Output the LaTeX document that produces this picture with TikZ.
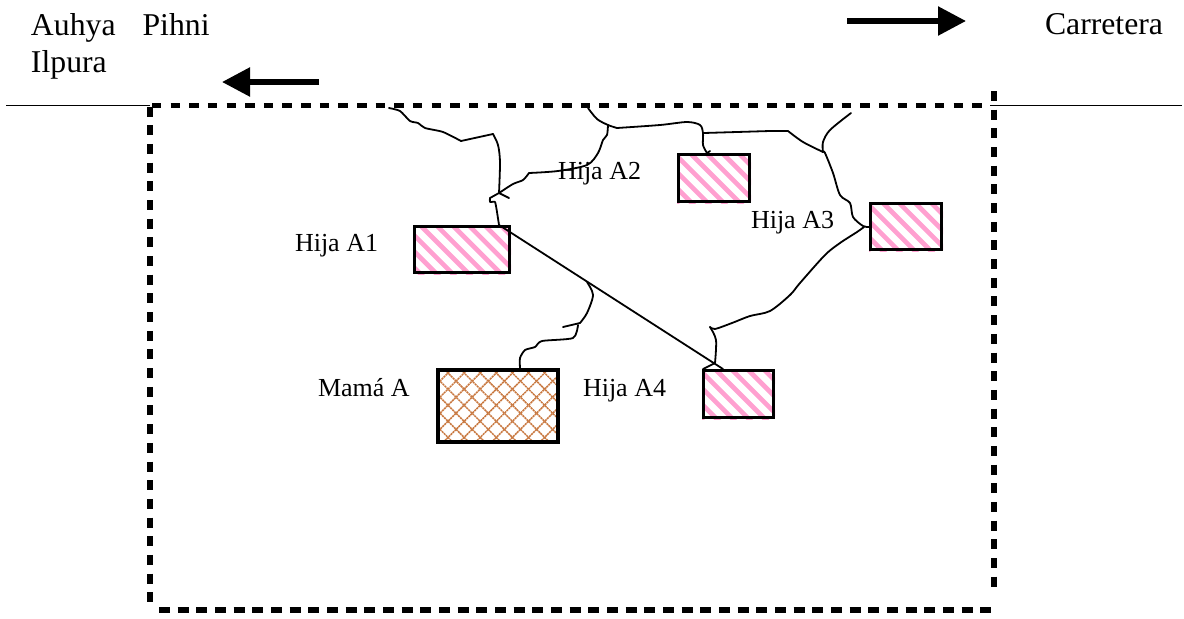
\documentclass[tikz,border=0pt]{standalone}
\usepackage{fontspec}
\setmainfont{Liberation Serif}
\usetikzlibrary{arrows.meta}
\definecolor{stripepink}{HTML}{FFA0D0}
\definecolor{hatchbrown}{HTML}{C87840}
\newcommand{\stripefill}[5]{%
  \begin{scope}
    \clip (#1,#2) rectangle (#3,#4);
    \foreach \k in {-6,...,6}{
      \pgfmathsetmacro{\cc}{#5+16.1*\k}
      \draw[stripeline] ({\cc+#2-10},#2-10) -- ({\cc+#4+10},#4+10);
    }
  \end{scope}}
\tikzset{
  stripeline/.style={stripepink,line width=3.5pt},
  hatchline/.style={hatchbrown,line width=1.15pt,dash pattern=on 1.6pt off 0.5pt},
  hijabox/.style={draw=black,line width=2pt,inner sep=0pt,outer sep=0pt},
  mamabox/.style={draw=black,line width=3pt,inner sep=0pt,outer sep=0pt},
  boundary/.style={black,line width=4.1pt},
  road/.style={black,line width=1.05pt},
  trail/.style={black,line width=1.35pt,line join=round,line cap=round},
  bigarrow/.style={black,line width=4.1pt,-{Triangle[length=21pt,width=21pt]}},
  headtext/.style={font=\fontsize{23.8}{27.75}\selectfont,inner sep=0pt,outer sep=0pt},
  labeltext/.style={font=\fontsize{19.5}{23}\selectfont,inner sep=0pt,outer sep=0pt,anchor=base west}
}
\begin{document}
\begin{tikzpicture}[x=0.75pt,y=-0.75pt]
\useasboundingbox (0,0) rectangle (1184,618);
% stripes
\stripefill{413.5}{225}{511}{274}{195}
\stripefill{677}{153}{751}{203}{537}
\stripefill{869}{202}{943}{251}{680}
\stripefill{702}{369}{775}{419}{346}
% cross-hatch
\begin{scope}
  \clip (438,370) rectangle (558,442);
  \foreach \k in {-7,...,9}{
    \draw[hatchline] ({75+16.1*\k+360},360) -- ({75+16.1*\k+450},450);
  }
  \foreach \k in {-3,...,13}{
    \draw[hatchline] ({821+16.1*\k-360},360) -- ({821+16.1*\k-450},450);
  }
\end{scope}
% houses
\node[hijabox,minimum width=71.25pt,minimum height=34.9pt] (a1) at (462.25,249.5) {};
\node[hijabox,minimum width=53.6pt,minimum height=35.6pt] (a2) at (714,178) {};
\node[hijabox,minimum width=53.6pt,minimum height=34.9pt] (a3) at (906,226.5) {};
\node[hijabox,minimum width=52.9pt,minimum height=35.6pt] (a4) at (738.5,394) {};
\node[mamabox,minimum width=90pt,minimum height=54pt] (mama) at (498,406) {};
% labels
\node[headtext,anchor=north west,align=left] (auhya) at (31,13) {Auhya\hspace{20.25pt}Pihni\\Ilpura};
\node[headtext,anchor=base west] (carretera) at (1045,34.5) {Carretera};
\node[labeltext] (la1) at (295,251) {Hija A1};
\node[labeltext] (la2) at (558,179) {Hija A2};
\node[labeltext] (la3) at (751,228) {Hija A3};
\node[labeltext] (la4) at (583,396) {Hija A4};
\node[labeltext] (lm) at (318,396) {Mamá A};
% road
\coordinate (rl0) at (6,105.7); \coordinate (rl1) at (150,105.7);
\coordinate (rr0) at (990,105.7); \coordinate (rr1) at (1182,105.7);
\draw[road] (rl0) -- (rl1);
\draw[road] (rr0) -- (rr1);
% boundary
\coordinate (tl) at (152,105.7); \coordinate (tr) at (981.5,105.7);
\coordinate (bl) at (159,610); \coordinate (br) at (991,610);
\coordinate (lt) at (150,106.6); \coordinate (lb) at (150,602);
\coordinate (rt) at (994,91); \coordinate (rb) at (994,587);
\draw[boundary,dash pattern=on 7.1pt off 6.88pt] (tl) -- (tr);
\draw[boundary,dash pattern=on 8.25pt off 5.75pt] (bl) -- (br);
\draw[boundary,dash pattern=on 7.5pt off 6.51pt] (lt) -- (lb);
\draw[boundary,dash pattern=on 7.5pt off 6.51pt] (rt) -- (rb);
% arrows
\coordinate (al0) at (319,82); \coordinate (al1) at (222,82);
\coordinate (ar0) at (847,21); \coordinate (ar1) at (966,21);
\draw[bigarrow] (al0) -- (al1);
\draw[bigarrow] (ar0) -- (ar1);
% trail junctions
\coordinate (j1) at (499,193);
\coordinate (j2) at (608,125);
\coordinate (j3) at (704,133);
\coordinate (j4) at (823,152);
\coordinate (j5) at (864,227);
\coordinate (j6) at (587,282);
\coordinate (s1) at (389,108);
\coordinate (s2) at (588,108);
\coordinate (s3) at (851,113);
% trails
\draw[trail] plot[smooth,tension=.4] coordinates {(s1) (400,111) (410,121) (418,123) (425,128) (443,132) (461,141)};
\draw[trail] (461,141) -- (493,134);
\draw[trail] plot[smooth,tension=.5] coordinates {(493,134) (498,145) (500,162) (j1)};
\draw[trail] (j1) -- (490,198);
\draw[trail] plot[smooth,tension=.3] coordinates {(490,198) (490,202) (495,202) (497,212) (499,225)};
\draw[trail] (j1) -- (509,198);
\draw[trail] (499,225) -- (723,369);
\draw[trail] plot[smooth,tension=.5] coordinates {(j1) (513,184) (523,180) (529,173)};
\draw[trail] plot[smooth,tension=.5] coordinates {(529,173) (558,171) (587,165) (598,153) (603,140) (607,135) (j2)};
\draw[trail] plot[smooth,tension=.5] coordinates {(s2) (597,119) (j2) (617,128)};
\draw[trail] plot[smooth,tension=.5] coordinates {(617,128) (660,125) (687,122) (700,125) (703,133) (703,145) (707,153)};
\draw[trail] (707,153) -- (710,151);
\draw[trail] (j3) -- (770,131) -- (788,131);
\draw[trail] plot[smooth,tension=.5] coordinates {(788,131) (803,142) (j4)};
\draw[trail] plot[smooth,tension=.5] coordinates {(j4) (823,142) (830,130) (s3)};
\draw[trail] plot[smooth,tension=.5] coordinates {(j4) (825,153) (833,173) (840,195) (850,203) (853,217) (863,226) (869,227)};
\draw[trail] plot[smooth,tension=.5] coordinates {(j5) (857,232) (840,243) (825,255) (800,283) (790,295) (770,311) (750,316) (732,323) (715,329) (710,327)};
\draw[trail] plot[smooth,tension=.5] coordinates {(710,327) (716,340) (715,363)};
\draw[trail] (715,363) -- (703,369);
\draw[trail] plot[smooth,tension=.5] coordinates {(j6) (593,295) (587,313) (580,323)};
\draw[trail] (580,323) -- (563,327);
\draw[trail] plot[smooth,tension=.4] coordinates {(578,325) (573,338) (542,341) (535,347) (525,350) (520,358) (520,368)};
\end{tikzpicture}
\end{document}
